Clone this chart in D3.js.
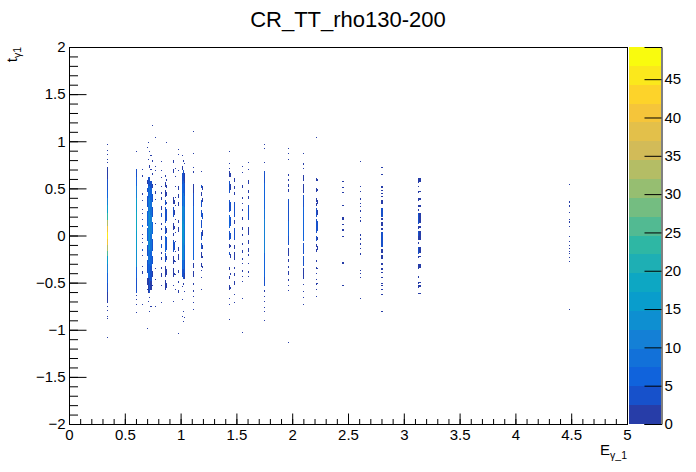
<!DOCTYPE html>
<html>
<head>
<meta charset="utf-8">
<script src="https://cdn.jsdelivr.net/npm/d3@7"></script>
<style>
  body { margin: 0; background: #fff; }
  text { font-family: "Liberation Sans", Arial, sans-serif; fill: #000; }
</style>
</head>
<body>
<svg id="chart" width="696" height="472"></svg>
<script>
// histogram binning (0.01 in both E and t)
const binX = 0.01, binY = 0.01;
const zMax = 49.2, nContours = 20;

const xTicks = [0, 0.5, 1, 1.5, 2, 2.5, 3, 3.5, 4, 4.5, 5];
const xTickLabels = ["0", "0.5", "1", "1.5", "2", "2.5", "3", "3.5", "4", "4.5", "5"];
const yTicks = [-2, -1.5, -1, -0.5, 0, 0.5, 1, 1.5, 2];
const yTickLabels = ["\u22122", "\u22121.5", "\u22121", "\u22120.5", "0", "0.5", "1", "1.5", "2"];
const zTicks = [0, 5, 10, 15, 20, 25, 30, 35, 40, 45];

// kBird palette stops
const birdStops = [0, 0.125, 0.25, 0.375, 0.5, 0.625, 0.75, 0.875, 1];
const birdR = [0.2082, 0.0592, 0.0780, 0.0232, 0.1802, 0.5301, 0.8186, 0.9956, 0.9764];
const birdG = [0.1664, 0.3599, 0.5041, 0.6419, 0.7178, 0.7492, 0.7328, 0.7862, 0.9832];
const birdB = [0.5293, 0.8684, 0.8385, 0.7914, 0.6425, 0.4662, 0.3499, 0.1968, 0.0539];

// energy of each occupied column
const stripeE = [0.34, 0.60, 0.65, 0.70, 0.71, 0.72, 0.73, 0.74, 0.77, 0.82,
  0.86, 0.87, 0.93, 0.94, 0.95, 0.98, 1.01, 1.02, 1.03, 1.11,
  1.18, 1.19, 1.43, 1.44, 1.48, 1.55, 1.60, 1.75, 1.96, 2.10,
  2.21, 2.22, 2.45, 2.61, 2.80, 3.13, 3.14, 4.48];

// runs of filled t bins in each column: [tTop, tBottom, count]
const stripeRuns = [
  // 0.34
  [[0.96,0.96,1],[0.90,0.90,1],[0.85,0.85,1],[0.80,0.80,1],[0.77,0.77,1],
   [0.73,0.60,2],[0.60,0.48,4],[0.48,0.40,6],[0.40,0.32,10],[0.32,0.24,16],[0.24,0.16,24],
   [0.16,0.10,32],[0.10,0.04,40],[0.04,-0.04,45],[-0.04,-0.10,41],[-0.10,-0.16,34],
   [-0.16,-0.22,25],[-0.22,-0.30,17],[-0.30,-0.40,10],[-0.40,-0.50,6],[-0.50,-0.60,3],
   [-0.60,-0.72,2],[-0.76,-0.76,1],[-0.80,-0.80,1],[-0.86,-0.86,1],[-0.89,-0.89,1],[-1.09,-1.09,1]],
  // 0.60
  [[0.89,0.89,1],[0.71,0.62,3],[0.62,0.52,6],[0.52,0.40,11],[0.40,0.25,15],[0.25,0.05,18],
   [0.05,-0.15,17],[-0.15,-0.33,13],[-0.33,-0.45,7],[-0.45,-0.61,3],[-0.64,-0.64,1],
   [-0.68,-0.68,1],[-0.74,-0.74,1],[-0.82,-0.82,1]],
  // 0.65
  [[0.70,0.70,1],[0.64,0.62,1],[0.45,0.43,2],[0.37,0.37,1],[0.27,0.27,2],[0.24,0.23,1],
   [0.18,0.17,1],[0.11,0.09,5],[0.02,0.01,2],[-0.04,-0.04,1],[-0.08,-0.08,1],[-0.14,-0.16,4],
   [-0.22,-0.22,1],[-0.33,-0.33,2],[-0.38,-0.41,1],[-0.74,-0.74,1]],
  // 0.70
  [[0.93,0.93,1],[0.59,0.55,2],[0.50,0.46,3],[0.42,0.30,4],[0.26,0.10,5],[0.08,-0.06,6],
   [-0.10,-0.22,4],[-0.26,-0.40,3],[-0.45,-0.52,2],[-0.58,-0.58,1],[-0.99,-0.99,1]],
  // 0.71
  [[0.98,0.98,1],[0.80,0.80,1],[0.62,0.52,3],[0.52,0.40,6],[0.40,0.25,9],[0.25,0.05,11],
   [0.05,-0.15,10],[-0.15,-0.30,8],[-0.30,-0.45,5],[-0.45,-0.61,2],[-0.70,-0.70,1]],
  // 0.72
  [[0.89,0.89,1],[0.75,0.72,1],[0.62,0.52,4],[0.52,0.40,8],[0.40,0.25,12],[0.25,0.05,14],
   [0.05,-0.15,13],[-0.15,-0.30,9],[-0.30,-0.45,6],[-0.45,-0.61,3],[-0.66,-0.66,1],[-0.81,-0.81,1]],
  // 0.73
  [[0.84,0.84,1],[0.70,0.70,1],[0.58,0.50,3],[0.50,0.38,6],[0.38,0.22,9],[0.22,0.02,10],
   [0.02,-0.18,9],[-0.18,-0.32,6],[-0.32,-0.48,4],[-0.48,-0.58,2],[-0.76,-0.76,1]],
  // 0.74
  [[1.16,1.16,1],[0.80,0.78,1],[0.66,0.64,1],[0.55,0.50,2],[0.44,0.36,3],[0.30,0.20,4],
   [0.14,0.02,5],[-0.04,-0.16,4],[-0.22,-0.30,3],[-0.38,-0.44,2],[-0.52,-0.54,1]],
  // 0.77
  [[1.03,1.03,1],[0.73,0.73,1],[0.70,0.68,1],[0.54,0.54,1],[0.47,0.44,1],[0.38,0.38,1],
   [0.12,0.12,1],[-0.35,-0.35,1],[-0.47,-0.47,1],[-0.76,-0.76,1]],
  // 0.82
  [[0.78,0.78,1],[0.70,0.69,1],[0.61,0.61,1],[0.53,0.52,2],[0.46,0.44,1],[0.41,0.38,2],
   [0.31,0.27,2],[0.24,0.20,3],[0.13,0.11,2],[0.08,0.06,1],[-0.01,-0.05,2],[-0.09,-0.13,3],
   [-0.17,-0.20,2],[-0.23,-0.26,1],[-0.33,-0.35,1],[-0.40,-0.44,2],[-0.54,-0.54,1],[-0.72,-0.72,1]],
  // 0.86
  [[0.64,0.62,1],[0.57,0.52,2],[0.48,0.41,2],[0.38,0.32,3],[0.30,0.13,4],[0.10,0.02,3],
   [0.00,-0.17,5],[-0.19,-0.28,3],[-0.32,-0.44,2],[-0.47,-0.58,1]],
  // 0.87
  [[0.98,0.98,1],[0.60,0.58,1],[0.54,0.50,1],[0.46,0.42,2],[0.36,0.33,2],[0.28,0.15,3],
   [0.08,0.03,2],[-0.02,-0.15,4],[-0.22,-0.26,2],[-0.36,-0.42,1],[-0.50,-0.56,1]],
  // 0.93
  [[0.80,0.77,1],[0.71,0.66,1],[0.41,0.33,2],[0.30,0.20,3],[0.13,0.06,2],[0.03,0.00,1],
   [-0.05,-0.17,4],[-0.22,-0.30,2],[-0.35,-0.44,2],[-0.53,-0.53,1],[-0.70,-0.70,1]],
  // 0.94
  [[0.38,0.34,1],[0.27,0.22,2],[0.10,0.07,1],[-0.07,-0.15,3],[-0.26,-0.28,1],[-0.40,-0.42,1]],
  // 0.95
  [[0.71,0.71,1],[0.62,0.62,1],[0.52,0.52,1],[0.40,0.40,1],[0.31,0.31,1],[0.17,0.17,1],
   [0.03,0.03,1],[-0.07,-0.07,1],[-0.17,-0.17,1],[-0.28,-0.28,1],[-0.42,-0.42,1],[-0.58,-0.58,1]],
  // 0.98
  [[0.91,0.91,1],[0.86,0.86,1],[0.70,0.68,1],[0.52,0.48,1],[0.44,0.40,2],[0.36,0.31,1],
   [0.16,0.13,1],[0.09,0.04,2],[-0.12,-0.16,1],[-0.20,-0.26,2],[-0.37,-0.40,1],[-0.48,-0.50,1],
   [-0.58,-0.61,1],[-1.04,-1.04,1]],
  // 1.01
  [[0.84,0.84,1],[0.74,0.70,2],[0.66,0.55,3],[0.55,0.42,5],[0.42,0.31,7],[0.31,0.15,11],
   [0.15,-0.05,13],[-0.05,-0.26,10],[-0.26,-0.36,6],[-0.36,-0.44,3],[-0.55,-0.55,1],
   [-0.68,-0.68,1],[-0.86,-0.86,1]],
  // 1.02
  [[0.80,0.78,1],[0.70,0.58,4],[0.58,0.45,7],[0.45,0.31,10],[0.31,0.12,14],[0.12,-0.08,16],
   [-0.08,-0.26,13],[-0.26,-0.36,8],[-0.36,-0.46,4],[-0.50,-0.52,1],[-0.81,-0.81,1],[-0.92,-0.92,1]],
  // 1.03
  [[0.76,0.76,1],[0.66,0.56,2],[0.56,0.42,4],[0.42,0.30,6],[0.30,0.10,8],[0.10,-0.10,9],
   [-0.10,-0.26,7],[-0.26,-0.40,4],[-0.40,-0.46,2],[-0.60,-0.60,1],[-0.88,-0.88,1]],
  // 1.11
  [[1.10,1.10,1],[0.87,0.87,1],[0.73,0.72,1],[0.68,0.66,1],[0.55,0.45,2],[0.45,0.31,3],
   [0.31,0.10,5],[0.10,-0.10,6],[-0.10,-0.26,5],[-0.29,-0.34,2],[-0.38,-0.44,1],[-0.50,-0.52,1],
   [-0.58,-0.60,1],[-0.65,-0.65,1],[-0.72,-0.72,1],[-0.79,-0.79,1]],
  // 1.18
  [[0.67,0.67,1],[0.54,0.50,3],[0.46,0.42,2],[0.38,0.30,3],[0.27,0.20,4],[0.16,0.08,3],
   [0.04,-0.05,4],[-0.08,-0.14,3],[-0.18,-0.24,2],[-0.29,-0.33,1],[-0.38,-0.38,1],
   [-0.45,-0.45,1],[-0.58,-0.58,1]],
  // 1.19
  [[0.52,0.48,1],[0.40,0.36,2],[0.24,0.18,3],[0.06,0.00,2],[-0.10,-0.14,2],[-0.22,-0.24,1],[-0.32,-0.34,1]],
  // 1.43
  [[0.89,0.89,1],[0.77,0.76,1],[0.72,0.71,1],[0.68,0.62,2],[0.58,0.45,3],[0.38,0.25,4],
   [0.22,0.08,5],[0.05,-0.05,4],[-0.09,-0.13,2],[-0.17,-0.21,3],[-0.33,-0.37,2],[-0.43,-0.46,1],
   [-0.52,-0.58,2],[-0.67,-0.67,1],[-0.74,-0.74,1],[-0.90,-0.90,1]],
  // 1.44
  [[0.66,0.62,1],[0.55,0.48,2],[0.36,0.26,3],[0.20,0.10,3],[0.03,-0.04,3],[-0.10,-0.12,1],
   [-0.20,-0.24,2],[-0.40,-0.42,1],[-0.55,-0.57,1]],
  // 1.48
  [[0.61,0.57,1],[0.53,0.49,2],[0.46,0.43,1],[0.36,0.20,3],[0.16,0.12,2],[0.08,-0.05,3],
   [-0.10,-0.14,2],[-0.18,-0.26,2],[-0.33,-0.36,1],[-0.40,-0.43,1],[-0.48,-0.52,1],
   [-0.63,-0.63,1],[-0.72,-0.72,1]],
  // 1.55
  [[0.73,0.73,1],[0.66,0.66,1],[0.54,0.50,1],[0.41,0.39,1],[0.35,0.33,1],[0.28,0.26,2],
   [0.20,0.17,1],[0.09,0.06,1],[0.02,0.00,1],[-0.08,-0.10,1],[-0.15,-0.18,2],[-0.24,-0.26,1],
   [-0.30,-0.30,1],[-0.37,-0.39,1],[-0.44,-0.44,1],[-0.49,-0.49,1],[-0.67,-0.67,1],[-1.03,-1.03,1]],
  // 1.60
  [[0.77,0.77,1],[0.70,0.70,1],[0.59,0.55,2],[0.48,0.45,1],[0.42,0.39,2],[0.32,0.17,3],
   [0.09,0.01,2],[-0.05,-0.09,2],[-0.13,-0.17,1],[-0.20,-0.22,1],[-0.30,-0.30,1],
   [-0.38,-0.40,1],[-0.43,-0.44,1]],
  // 1.75
  [[0.96,0.96,1],[0.92,0.92,1],[0.77,0.77,1],[0.68,0.56,3],[0.56,0.42,5],[0.42,0.28,7],
   [0.28,0.17,9],[0.17,0.00,12],[0.00,-0.19,11],[-0.19,-0.32,7],[-0.32,-0.44,5],[-0.44,-0.54,3],
   [-0.58,-0.60,1],[-0.65,-0.65,1],[-0.70,-0.70,1],[-0.77,-0.77,1],[-0.81,-0.81,1],[-0.91,-0.91,1]],
  // 1.96
  [[0.92,0.92,1],[0.87,0.87,1],[0.80,0.80,1],[0.65,0.63,1],[0.60,0.58,1],[0.55,0.52,2],
   [0.49,0.46,1],[0.39,0.30,3],[0.30,0.15,4],[0.15,0.00,5],[-0.01,-0.10,3],[-0.13,-0.22,2],
   [-0.25,-0.28,1],[-0.32,-0.34,1],[-0.38,-0.42,2],[-0.46,-0.48,1],[-0.52,-0.53,1],
   [-0.59,-0.59,1],[-1.14,-1.14,1]],
  // 2.10
  [[0.87,0.87,1],[0.77,0.75,1],[0.71,0.71,1],[0.64,0.58,2],[0.55,0.45,2],[0.43,0.30,3],
   [0.30,0.10,5],[0.10,-0.06,6],[-0.08,-0.20,4],[-0.22,-0.32,3],[-0.34,-0.46,2],[-0.51,-0.52,1],
   [-0.60,-0.60,1],[-0.66,-0.66,1],[-0.74,-0.74,1]],
  // 2.21
  [[1.03,1.03,1],[0.61,0.58,2],[0.50,0.46,2],[0.40,0.36,2],[0.34,0.31,2],[0.29,0.20,3],
   [0.18,0.03,4],[-0.01,-0.06,3],[-0.09,-0.12,2],[-0.14,-0.17,2],[-0.26,-0.28,1],[-0.33,-0.35,2],
   [-0.40,-0.41,1],[-0.46,-0.47,1],[-0.50,-0.52,1],[-0.58,-0.58,1],[-0.65,-0.65,1]],
  // 2.22
  [[0.60,0.58,1],[0.49,0.47,1],[0.38,0.33,2],[0.27,0.22,2],[0.15,0.05,3],[-0.02,-0.05,2],
   [-0.11,-0.15,1],[-0.34,-0.35,1],[-0.51,-0.51,1]],
  // 2.45
  [[0.57,0.57,1],[0.50,0.50,1],[0.45,0.45,1],[0.31,0.31,1],[0.20,0.17,1],[0.11,0.11,1],
   [0.07,0.05,1],[-0.01,-0.01,1],[-0.28,-0.30,1],[-0.54,-0.54,1]],
  // 2.61
  [[0.78,0.78,1],[0.52,0.52,1],[0.46,0.46,1],[0.40,0.38,1],[0.35,0.34,1],[0.31,0.30,1],
   [0.27,0.25,1],[0.20,0.19,1],[0.16,0.14,1],[0.02,0.00,1],[-0.03,-0.05,1],[-0.08,-0.10,1],
   [-0.13,-0.14,1],[-0.19,-0.21,1],[-0.37,-0.38,1],[-0.40,-0.41,1],[-0.45,-0.45,1],[-0.67,-0.67,1]],
  // 2.80
  [[0.72,0.72,1],[0.64,0.64,1],[0.52,0.50,1],[0.47,0.47,1],[0.44,0.44,1],[0.41,0.41,1],
   [0.38,0.34,2],[0.29,0.20,3],[0.19,0.16,2],[0.14,0.10,2],[0.08,0.06,1],[0.04,-0.12,3],
   [-0.14,-0.18,1],[-0.21,-0.25,2],[-0.29,-0.31,1],[-0.34,-0.37,1],[-0.40,-0.40,1],
   [-0.45,-0.45,1],[-0.51,-0.51,1],[-0.54,-0.54,1],[-0.58,-0.58,1],[-0.63,-0.63,1],[-0.81,-0.81,1]],
  // 3.13
  [[0.61,0.56,2],[0.52,0.52,1],[0.47,0.45,2],[0.40,0.37,2],[0.32,0.30,2],[0.28,0.26,1],
   [0.24,0.12,3],[0.10,0.07,2],[0.05,0.00,3],[-0.01,-0.05,2],[-0.07,-0.09,1],[-0.12,-0.20,3],
   [-0.22,-0.24,2],[-0.30,-0.35,2],[-0.43,-0.45,1],[-0.49,-0.51,1],[-0.53,-0.56,2],[-0.61,-0.62,1]],
  // 3.14
  [[0.61,0.57,1],[0.47,0.46,1],[0.40,0.38,1],[0.32,0.30,1],[0.24,0.13,2],[0.10,0.08,1],
   [0.05,0.00,2],[-0.01,-0.05,1],[-0.12,-0.19,2],[-0.22,-0.23,1],[-0.30,-0.34,1],
   [-0.49,-0.50,1],[-0.53,-0.55,1],[-0.61,-0.62,1]],
  // 4.48
  [[0.54,0.54,1],[0.37,0.35,1],[0.32,0.30,1],[0.24,0.24,1],[0.17,0.17,1],[0.15,0.13,1],
   [0.10,0.09,1],[-0.02,-0.02,1],[-0.07,-0.07,1],[-0.11,-0.11,1],[-0.14,-0.14,1],
   [-0.17,-0.17,1],[-0.20,-0.20,1],[-0.24,-0.24,1],[-0.28,-0.28,1],[-0.79,-0.79,1]]
];

const W = 696, H = 472;
const frame = { left: 69, right: 627, top: 47, bottom: 424 };
const pal = { left: 629, right: 661 };

const svg = d3.select("#chart");

const x = d3.scaleLinear().domain([0, 5]).range([frame.left, frame.right]);
const y = d3.scaleLinear().domain([-2, 2]).range([frame.bottom, frame.top]);
const z = d3.scaleLinear().domain([0, zMax]).range([frame.bottom, frame.top]);

const bird = d3.scaleLinear().domain(birdStops)
  .range(birdStops.map((s, i) => d3.rgb(birdR[i] * 255, birdG[i] * 255, birdB[i] * 255).toString()));
// ROOT picks one colour of a 255 gradient for each of the 20 contours
const bandColor = d3.range(nContours).map(i => bird(Math.floor((i + 0.99) * 255 / nContours) / 254));
function colorOf(v) {
  const b = Math.floor(0.01 + v * nContours / zMax);
  return bandColor[Math.max(0, Math.min(nContours - 1, b))];
}

// expand runs into cells
const cells = [];
stripeE.forEach((e, k) => {
  const ix = Math.round(e / binX);
  stripeRuns[k].forEach(([t0, t1, v]) => {
    const lo = Math.round(Math.min(t0, t1) / binY), hi = Math.round(Math.max(t0, t1) / binY);
    const end = hi > lo ? hi - 1 : lo;
    for (let iy = lo; iy <= end; iy++) cells.push({ ix, iy, v });
  });
});

svg.append("g")
  .attr("shape-rendering", "crispEdges")
  .selectAll("rect")
  .data(cells)
  .join("rect")
  .attr("x", d => Math.round(x(d.ix * binX)))
  .attr("width", d => Math.max(1, Math.round(x((d.ix + 1) * binX)) - Math.round(x(d.ix * binX))))
  .attr("y", d => Math.round(y((d.iy + 1) * binY)))
  .attr("height", d => Math.max(1, Math.round(y(d.iy * binY)) - Math.round(y((d.iy + 1) * binY))))
  .attr("fill", d => colorOf(d.v));

// frame
svg.append("rect")
  .attr("x", frame.left + 0.5).attr("y", frame.top + 0.5)
  .attr("width", frame.right - frame.left).attr("height", frame.bottom - frame.top)
  .attr("fill", "none").attr("stroke", "#000").attr("stroke-width", 1);

// axes, ROOT style ticks inside the frame
const xMinor = d3.range(0, 51).map(i => i / 10);
const yMinor = d3.range(-20, 21).map(i => i / 10);

svg.append("g")
  .attr("transform", `translate(0,${frame.bottom + 0.5})`)
  .call(d3.axisBottom(x).tickValues(xMinor).tickSize(-5.5).tickFormat(""))
  .call(g => g.select(".domain").remove());
svg.append("g")
  .attr("transform", `translate(0,${frame.bottom + 0.5})`)
  .call(d3.axisBottom(x).tickValues(xTicks).tickSize(-11).tickPadding(5)
    .tickFormat((d, i) => xTickLabels[i]))
  .call(g => g.select(".domain").remove())
  .call(g => g.selectAll("text").attr("font-size", 15).attr("dy", "0.71em")
    .style("font-family", '"Liberation Sans", Arial, sans-serif'));

svg.append("g")
  .attr("transform", `translate(${frame.left + 0.5},0)`)
  .call(d3.axisLeft(y).tickValues(yMinor).tickSize(-8.5).tickFormat(""))
  .call(g => g.select(".domain").remove());
svg.append("g")
  .attr("transform", `translate(${frame.left + 0.5},0)`)
  .call(d3.axisLeft(y).tickValues(yTicks).tickSize(-17).tickPadding(4)
    .tickFormat((d, i) => yTickLabels[i]))
  .call(g => g.select(".domain").remove())
  .call(g => g.selectAll("text").attr("font-size", 15)
    .style("font-family", '"Liberation Sans", Arial, sans-serif'));

svg.selectAll(".tick line").attr("stroke", "#000");

// palette
svg.append("g")
  .attr("shape-rendering", "crispEdges")
  .selectAll("rect")
  .data(bandColor)
  .join("rect")
  .attr("x", pal.left)
  .attr("width", pal.right - pal.left)
  .attr("y", (c, i) => Math.round(z((i + 1) * zMax / nContours)))
  .attr("height", (c, i) => Math.round(z(i * zMax / nContours)) - Math.round(z((i + 1) * zMax / nContours)))
  .attr("fill", c => c);

svg.append("g")
  .attr("transform", `translate(${pal.right + 0.5},0)`)
  .call(d3.axisRight(z).tickValues(zTicks).tickSize(-17).tickPadding(3))
  .call(g => g.select(".domain").attr("stroke", "#000"))
  .call(g => g.selectAll("text").attr("font-size", 15)
    .style("font-family", '"Liberation Sans", Arial, sans-serif'))
  .call(g => g.selectAll(".tick line").attr("stroke", "#000"));

// titles
svg.append("text")
  .attr("x", (frame.left + frame.right) / 2).attr("y", 27)
  .attr("text-anchor", "middle").attr("font-size", 22)
  .text("CR_TT_rho130-200");

const xt = svg.append("text")
  .attr("x", frame.right).attr("y", 455)
  .attr("text-anchor", "end").attr("font-size", 15);
xt.append("tspan").text("E");
xt.append("tspan").attr("font-size", 10.5).attr("dy", 4).text("\u03b3_1");

const yt = svg.append("text")
  .attr("transform", `translate(17,${frame.top}) rotate(-90)`)
  .attr("text-anchor", "end").attr("font-size", 15);
yt.append("tspan").text("t");
yt.append("tspan").attr("font-size", 10.5).attr("dy", 4).text("\u03b31");
</script>
</body>
</html>
